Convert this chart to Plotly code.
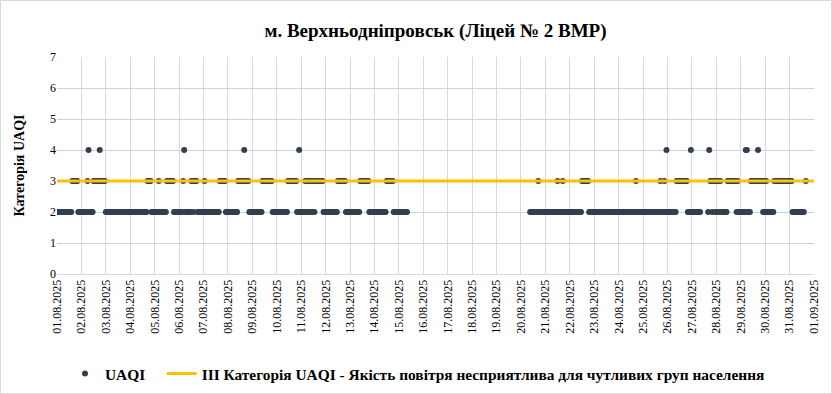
import datetime as dt
import plotly.graph_objects as go

# Hourly UAQI category per day (24 chars = hours 00..23, '-' = no data)
days = [f"{d:02d}.08.2025" for d in range(1, 32)]
hourly_uaqi = [
    "222222222222222333333222",  # 01.08
    "222222342222333333433333",  # 02.08
    "222222222222222222222222",  # 03.08
    "222222222222222223333222",  # 04.08
    "222232222222333333322222",  # 05.08
    "222234222222332333222222",  # 06.08
    "232222222222222233333322",  # 07.08
    "222222222233333343333222",  # 08.08
    "222222222233333333332222",  # 09.08
    "222222222223333333332242",  # 10.08
    "222232323232323333333322",  # 11.08
    "222222222222333333332222",  # 12.08
    "222222222233333333322222",  # 13.08
    "222222222222333333322222",  # 14.08
    "222222222---------------",  # 15.08
    "------------------------",  # 16.08
    "------------------------",  # 17.08
    "------------------------",  # 18.08
    "------------------------",  # 19.08
    "---------222222223222222",  # 20.08
    "222222222222322223222222",  # 21.08
    "222222222222333333322222",  # 22.08
    "222222222222222222222222",  # 23.08
    "222222222222222223222222",  # 24.08
    "222222222222222223222324",  # 25.08
    "222222222333333333332224",  # 26.08
    "222222222-------24332332",  # 27.08
    "323232222223333333332322",  # 28.08
    "222224422233333334333323",  # 29.08
    "232222222333333333333333",  # 30.08
    "333222222222222-3-------",  # 31.08
]
tick_labels = days + ["01.09.2025"]
tick_dates = ["2025-08-%02d" % d for d in range(1, 32)] + ["2025-09-01"]
threshold_value = 3
threshold_x = ["2025-08-01", "2025-09-01"]
title_text = "м. Верхньодніпровськ (Ліцей № 2 ВМР)"
series_name = "UAQI"
threshold_name = "III Категорія UAQI - Якість повітря несприятлива для чутливих груп населення"

start = dt.datetime(2025, 8, 1)
xs, ys = [], []
for i, s in enumerate(hourly_uaqi):
    for h, ch in enumerate(s):
        if ch != "-":
            xs.append(start + dt.timedelta(days=i, hours=h))
            ys.append(int(ch))

W, H = 832, 394
L, R, T, B = 57, 18, 57, 120
pw, ph = W - L - R, H - T - B

FONT = "Liberation Serif"

fig = go.Figure()
fig.add_trace(go.Scatter(
    x=xs, y=ys, mode="markers", name=series_name + "&nbsp;" * 3,
    marker=dict(color="#333f50", size=6, line=dict(width=0)),
))
fig.add_trace(go.Scatter(
    x=threshold_x, y=[threshold_value] * len(threshold_x), mode="lines",
    name=threshold_name, line=dict(color="#ffc000", width=3),
))

fig.update_layout(
    width=W, height=H,
    margin=dict(l=L, r=R, t=T, b=B, autoexpand=False),
    paper_bgcolor="white", plot_bgcolor="white",
    font=dict(family=FONT, color="#000000", size=12),
    title=dict(text="<b>" + title_text + "</b>", x=0.5, xanchor="center",
               xref="paper", yref="container",
               y=1 - 30 / H, yanchor="middle", automargin=False,
               font=dict(family=FONT, size=19, color="#000000")),
    showlegend=True,
    legend=dict(orientation="h", x=0.5 - 18 / pw, xanchor="center",
                y=-(374 - (T + ph)) / ph, yanchor="middle",
                font=dict(family=FONT, size=15.4, color="#000000", weight="bold"),
                itemwidth=30, tracegroupgap=0),
    xaxis=dict(
        type="date", automargin=False,
        range=[tick_dates[0], tick_dates[-1]],
        tickmode="array", tickvals=tick_dates, ticktext=tick_labels,
        tickangle=-90, tickfont=dict(family=FONT, size=12, color="#000000"),
        showgrid=True, gridcolor="#d9d9d9", gridwidth=1,
        showline=True, linecolor="#d9d9d9", linewidth=1,
        ticks="", zeroline=False,
    ),
    yaxis=dict(
        range=[0, 7], dtick=1, tick0=0, automargin=False,
        tickfont=dict(family=FONT, size=12, color="#000000"),
        showgrid=True, gridcolor="#c5d3ea", gridwidth=1,
        zeroline=False, showline=False, ticks="",
        title=dict(text="<b>Категорія UAQI</b>",
                   font=dict(family=FONT, size=14, color="#000000"), standoff=22),
    ),
    shapes=[dict(
        type="rect", xref="paper", yref="paper",
        x0=(-L + 0.5) / pw, x1=1 + (R - 0.5) / pw,
        y0=-(B - 0.5) / ph, y1=1 + (T - 0.5) / ph,
        line=dict(color="#d9d9d9", width=1), fillcolor="rgba(0,0,0,0)", layer="below",
    )],
)

fig.write_html("out.html", config={"displayModeBar": False},
               post_script="document.body.style.margin='0';")
